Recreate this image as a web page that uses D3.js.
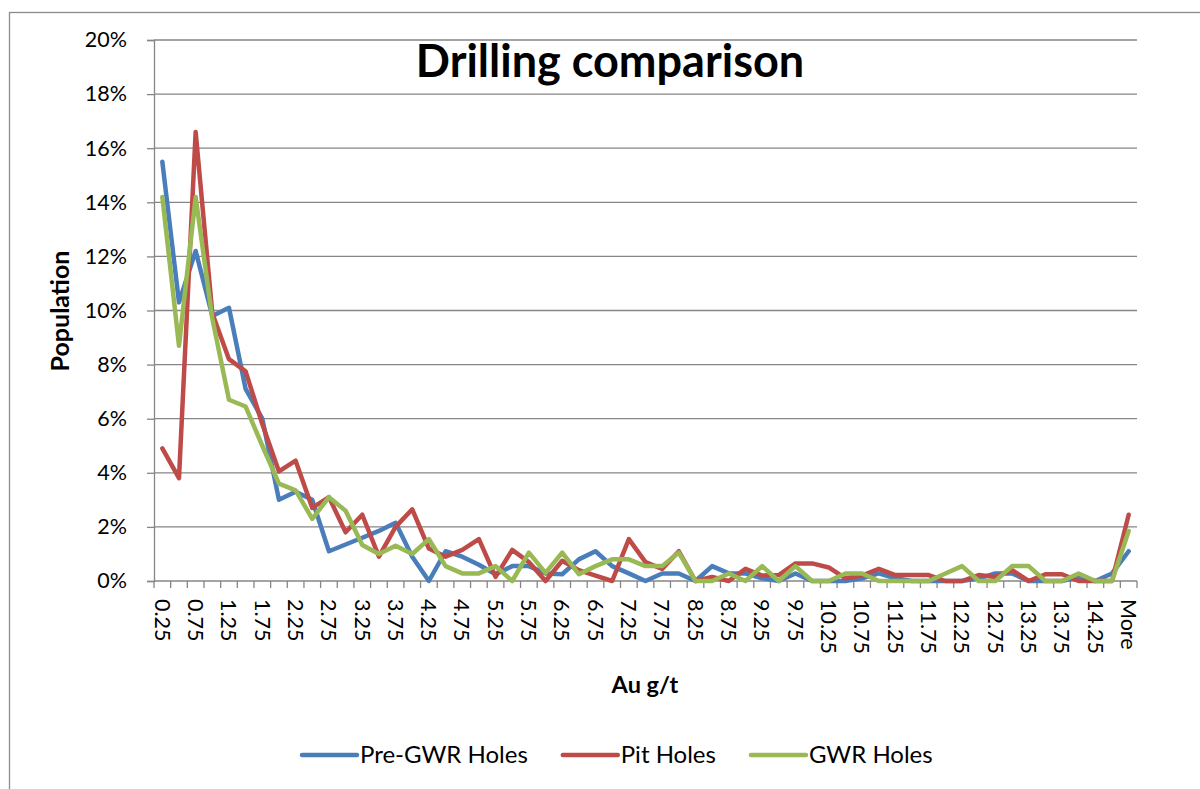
<!DOCTYPE html>
<html>
<head>
<meta charset="utf-8">
<script src="https://cdn.jsdelivr.net/npm/d3@7"></script>
<style>
    body { margin: 0; background: #fff; }
    text { font-family: Lato, "Open Sans", sans-serif; fill: #000; }
</style>
</head>
<body>
<div id="chart"></div>
<script>
'use strict';

// bins of Au g/t (Excel histogram, last bin is "More")
var categories = ['0.25','0.5','0.75','1','1.25','1.5','1.75','2','2.25','2.5','2.75','3',
    '3.25','3.5','3.75','4','4.25','4.5','4.75','5','5.25','5.5','5.75','6',
    '6.25','6.5','6.75','7','7.25','7.5','7.75','8','8.25','8.5','8.75','9',
    '9.25','9.5','9.75','10','10.25','10.5','10.75','11','11.25','11.5','11.75','12',
    '12.25','12.5','12.75','13','13.25','13.5','13.75','14','14.25','14.5','More'];

// population in percent
var preGwrHoles = [15.5,10.3,12.2,9.8,10.1,7.1,6.0,3.0,3.3,3.0,1.1,1.35,
    1.6,1.85,2.15,0.9,0.0,1.1,0.9,0.6,0.25,0.55,0.55,0.28,
    0.25,0.8,1.1,0.55,0.28,0.0,0.28,0.28,0.0,0.55,0.28,0.28,
    0.1,0.0,0.28,0.0,0.0,0.0,0.1,0.28,0.1,0.0,0.0,0.0,
    0.0,0.1,0.28,0.28,0.0,0.0,0.0,0.15,0.0,0.28,1.1];

var pitHoles = [4.9,3.8,16.6,9.9,8.2,7.75,5.8,4.05,4.45,2.7,3.1,1.8,
    2.45,0.9,2.0,2.65,1.2,0.9,1.15,1.55,0.15,1.15,0.7,0.0,
    0.75,0.4,0.2,0.0,1.55,0.7,0.45,1.1,0.0,0.15,0.0,0.45,
    0.2,0.22,0.65,0.65,0.5,0.1,0.2,0.45,0.22,0.22,0.22,0.0,
    0.0,0.22,0.15,0.4,0.0,0.25,0.25,0.0,0.0,0.0,2.45];

var gwrHoles = [14.2,8.7,14.2,9.7,6.7,6.45,5.0,3.6,3.35,2.3,3.1,2.6,
    1.33,1.0,1.3,1.0,1.55,0.55,0.28,0.28,0.55,0.0,1.05,0.3,
    1.05,0.25,0.55,0.8,0.8,0.55,0.55,1.05,0.0,0.0,0.28,0.0,
    0.55,0.0,0.55,0.0,0.0,0.28,0.28,0.0,0.0,0.0,0.0,0.28,
    0.55,0.0,0.0,0.55,0.55,0.0,0.0,0.28,0.0,0.0,1.85];

var seriesNames  = ['Pre-GWR Holes', 'Pit Holes', 'GWR Holes'];
var seriesColors = ['#4a7ebb', '#be4b48', '#98b954'];
var yTicks = [0, 2, 4, 6, 8, 10, 12, 14, 16, 18, 20];

var width = 1200, height = 789;
var margins = {top: 40, left: 154, right: 63, bottom: 208};
var cw = width - margins.left - margins.right;
var ch = height - margins.top - margins.bottom;
var gridColor = '#868686';

var svg = d3.select('#chart').append('svg')
    .attr('width', width)
    .attr('height', height);

// chart area border (runs off the right and bottom of the picture)
svg.append('rect')
    .attr('x', 9.5).attr('y', 12.5)
    .attr('width', width).attr('height', height)
    .attr('fill', '#fff')
    .attr('stroke', '#8c8c8c')
    .attr('stroke-width', 1.3);

var chart = svg.append('g')
    .attr('transform', 'translate(' + margins.left + ',' + margins.top + ')');

var xScale = d3.scaleBand().domain(categories).range([0, cw]).padding(0);
var yScale = d3.scaleLinear().domain([0, 20]).range([ch, 0]);
var xMid = function(c) { return xScale(c) + xScale.bandwidth() / 2; };

// horizontal gridlines
chart.append('g').selectAll('line')
    .data(yTicks.slice(1))
    .enter().append('line')
    .attr('x1', 0).attr('x2', cw)
    .attr('y1', function(d) { return yScale(d); })
    .attr('y2', function(d) { return yScale(d); })
    .attr('stroke', gridColor)
    .attr('stroke-width', 1.3);

// y axis
var yAxis = d3.axisLeft(yScale)
    .tickValues(yTicks)
    .tickSize(7)
    .tickPadding(20)
    .tickFormat(function(d) { return d + '%'; });

var yAxisGroup = chart.append('g').call(yAxis);
yAxisGroup.select('.domain').attr('stroke', gridColor).attr('stroke-width', 1.3);
yAxisGroup.selectAll('.tick line').attr('stroke', gridColor).attr('stroke-width', 1.3);
yAxisGroup.selectAll('.tick text').style('font-size', '21.5px');

// x axis: ticks between categories, every other label
var boundaries = d3.range(categories.length + 1).map(function(i) { return i * xScale.step(); });

var xAxisGroup = chart.append('g')
    .attr('transform', 'translate(0,' + ch + ')');

xAxisGroup.append('line')
    .attr('x1', 0).attr('x2', cw)
    .attr('stroke', gridColor)
    .attr('stroke-width', 1.3);

xAxisGroup.selectAll('line.tk')
    .data(boundaries)
    .enter().append('line')
    .attr('class', 'tk')
    .attr('x1', function(d) { return d; })
    .attr('x2', function(d) { return d; })
    .attr('y1', 0).attr('y2', 7)
    .attr('stroke', gridColor)
    .attr('stroke-width', 1.3);

var xAxis = d3.axisBottom(xScale)
    .tickValues(categories.filter(function(d, i) { return i % 2 === 0; }))
    .tickSize(0);

var xLabels = xAxisGroup.append('g').call(xAxis);
xLabels.select('.domain').remove();
xLabels.selectAll('.tick text')
    .attr('transform', 'rotate(90)')
    .attr('x', 18)
    .attr('y', 0)
    .attr('dy', '0.36em')
    .style('text-anchor', 'start')
    .style('font-size', '21.5px');

// series lines
var series = [preGwrHoles, pitHoles, gwrHoles];

var line = d3.line()
    .x(function(d, i) { return xMid(categories[i]); })
    .y(function(d) { return yScale(d); });

chart.append('g').selectAll('path')
    .data(series)
    .enter().append('path')
    .attr('d', line)
    .attr('fill', 'none')
    .attr('stroke', function(d, i) { return seriesColors[i]; })
    .attr('stroke-width', 4.5)
    .attr('stroke-linejoin', 'round')
    .attr('stroke-linecap', 'round');

// title and axis titles
svg.append('text')
    .attr('x', 610).attr('y', 77)
    .attr('text-anchor', 'middle')
    .style('font-size', '45px')
    .style('font-weight', 'bold')
    .text('Drilling comparison');

svg.append('text')
    .attr('transform', 'translate(69,311) rotate(-90)')
    .attr('text-anchor', 'middle')
    .style('font-size', '25px')
    .style('font-weight', 'bold')
    .text('Population');

svg.append('text')
    .attr('x', 645).attr('y', 693)
    .attr('text-anchor', 'middle')
    .style('font-size', '23.5px')
    .style('font-weight', 'bold')
    .text('Au g/t');

// legend
var legend = svg.append('g');
var lx = 302;
seriesNames.forEach(function(name, i) {
    legend.append('line')
        .attr('x1', lx).attr('x2', lx + 55)
        .attr('y1', 755).attr('y2', 755)
        .attr('stroke', seriesColors[i])
        .attr('stroke-width', 4.5)
        .attr('stroke-linecap', 'round');
    var t = legend.append('text')
        .attr('x', lx + 58).attr('y', 763)
        .style('font-size', '24px')
        .text(name);
    lx += 58 + t.node().getComputedTextLength() + 35;
});
</script>
</body>
</html>
